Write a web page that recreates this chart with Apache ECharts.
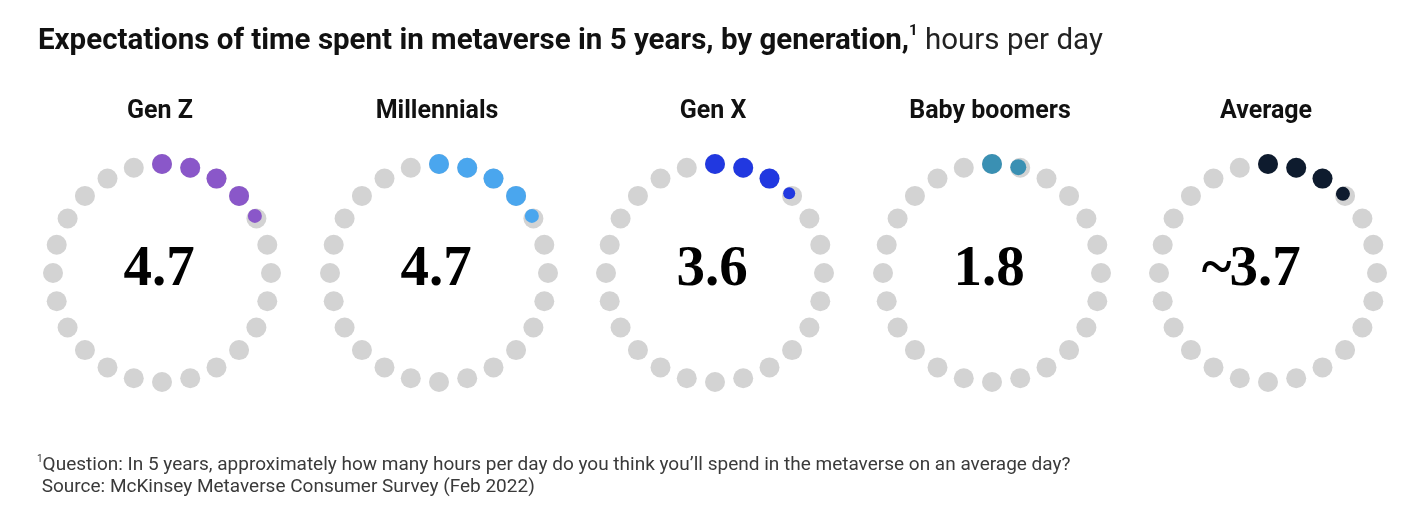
<!DOCTYPE html>
<html>
<head>
<meta charset="utf-8">
<title>Metaverse hours by generation</title>
<script src="https://cdn.jsdelivr.net/npm/echarts@6/dist/echarts.min.js"></script>
<style>
  html, body { margin: 0; padding: 0; background: #fff; }
  #chart { width: 1416px; height: 518px; }
</style>
</head>
<body>
<div id="chart"></div>
<script>
// data
var groups = ['Gen Z', 'Millennials', 'Gen X', 'Baby boomers', 'Average'];
var hours = [4.7, 4.7, 3.6, 1.8, 3.7];
var prefixes = ['', '', '', '', '~'];
var colors = ['#8a57c9', '#4aa6ee', '#2138e0', '#3a90b3', '#0e1b2e'];
var slots = 24;

var grey = '#d3d3d3';
var dot = 20;        // full dot diameter
var ringR = 109;     // ring radius, px
var centersX = [162, 439, 715, 992, 1268];
var centerY = 273;
var sans = 'Roboto, "Liberation Sans", sans-serif';
var valueFont = 'bold 57px "Liberation Serif", serif';

var myChart = echarts.init(document.getElementById('chart'), null, { renderer: 'canvas' });

// measure number width so prefix (~) hangs to the left
var ctx = document.createElement('canvas').getContext('2d');
ctx.font = valueFont;

var polar = [], angleAxis = [], radiusAxis = [], series = [], graphic = [];

groups.forEach(function (name, i) {
  polar.push({ center: [centersX[i], centerY], radius: ringR });
  angleAxis.push({ polarIndex: i, type: 'value', min: 0, max: slots, startAngle: 90, clockwise: true, show: false });
  radiusAxis.push({ polarIndex: i, type: 'value', min: 0, max: 1, show: false });

  var bg = [];
  for (var h = 0; h < slots; h++) bg.push([1, h]);
  series.push({
    type: 'scatter', coordinateSystem: 'polar', polarIndex: i,
    symbolSize: dot, itemStyle: { color: grey, opacity: 1 }, silent: true,
    data: bg
  });

  var full = Math.floor(hours[i] + 1e-9);
  var frac = Math.round((hours[i] - full) * 10) / 10;
  var on = [];
  for (var k = 0; k < full; k++) on.push({ value: [1, k], symbolSize: dot });
  if (frac > 0) {
    var size = dot * frac;
    // small dot sits against the trailing edge of its slot
    var shift = ((dot - size) / 2 / ringR) * (180 / Math.PI) / (360 / slots);
    on.push({ value: [1, full - shift], symbolSize: size });
  }
  series.push({
    type: 'scatter', coordinateSystem: 'polar', polarIndex: i,
    itemStyle: { color: colors[i], opacity: 1 }, silent: true, z: 3,
    data: on
  });

  graphic.push({
    type: 'text', x: centersX[i] - 2, y: 112,
    style: {
      text: name, font: 'bold 25px ' + sans,
      fill: '#111', align: 'center', verticalAlign: 'middle'
    }
  });

  var num = hours[i].toFixed(1);
  var w = ctx.measureText(num).width;
  graphic.push({
    type: 'text', x: centersX[i] - 3, y: centerY - 3,
    style: { text: num, font: valueFont, fill: '#000', align: 'center', verticalAlign: 'middle' }
  });
  if (prefixes[i]) {
    graphic.push({
      type: 'text', x: centersX[i] - 3 - w / 2 + 2, y: centerY - 3,
      style: { text: prefixes[i], font: valueFont, fill: '#000', align: 'right', verticalAlign: 'middle' }
    });
  }
});

graphic.push({
  type: 'text', x: 37, y: 454,
  style: {
    text: '{s|1}{t|Question: In 5 years, approximately how many hours per day do you think you\u2019ll spend in the metaverse on an average day?}\n{t| Source: McKinsey Metaverse Consumer Survey (Feb 2022)}',
    verticalAlign: 'top',
    rich: {
      t: { fontFamily: sans, fontSize: 19, fill: '#3a3a3a', lineHeight: 22 },
      s: { fontFamily: sans, fontSize: 10, fill: '#3a3a3a', verticalAlign: 'top', lineHeight: 22 }
    }
  }
});

option = {
  backgroundColor: '#fff',
  animation: false,
  title: {
    left: 33, top: 19,
    text: '{b|Expectations of time spent in metaverse in 5 years, by generation,}{s|1}{r| hours per day}',
    textStyle: {
      rich: {
        b: { fontFamily: sans, fontWeight: 'bold', fontSize: 29.5, color: '#111', lineHeight: 36 },
        s: { fontFamily: sans, fontWeight: 'bold', fontSize: 15, color: '#111', verticalAlign: 'top', lineHeight: 36 },
        r: { fontFamily: sans, fontWeight: 'normal', fontSize: 29.5, color: '#222', lineHeight: 36 }
      }
    }
  },
  polar: polar,
  angleAxis: angleAxis,
  radiusAxis: radiusAxis,
  series: series,
  graphic: graphic
};
myChart.setOption(option);
</script>
</body>
</html>
